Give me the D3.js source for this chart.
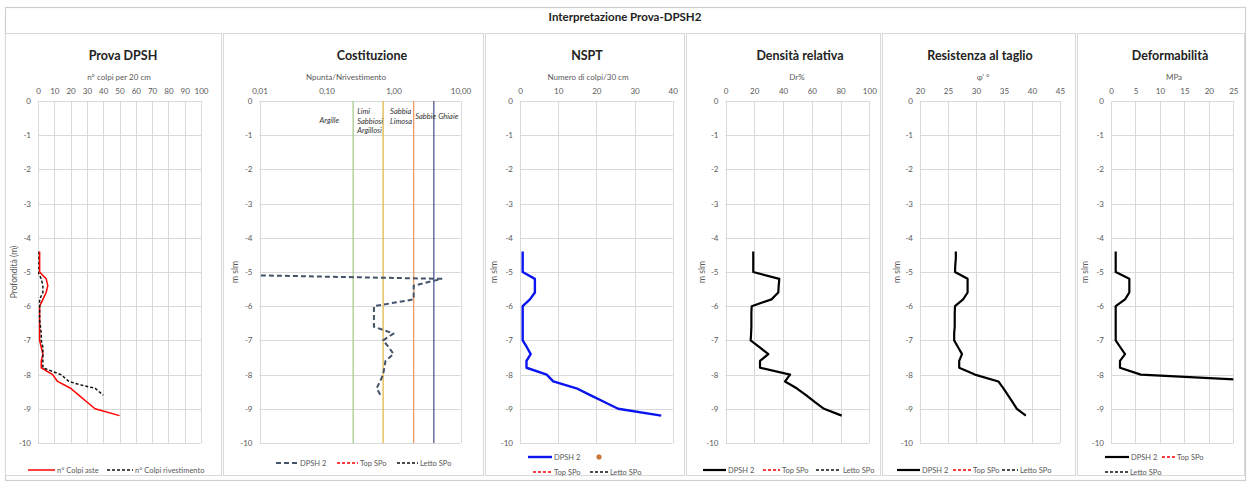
<!DOCTYPE html>
<html>
<head>
<meta charset="utf-8">
<script src="https://cdn.jsdelivr.net/npm/d3@7"></script>
<style>
  body { margin: 0; background: #fff; }
  svg { display: block; }
  text { font-family: Lato, "Open Sans", "Liberation Sans", sans-serif; }
</style>
</head>
<body>
<svg id="chart" width="1250" height="486"></svg>
<script>
// ---- Data (depths in m s.l.m.) ----
const depths = [-4.4, -4.6, -4.8, -5.0, -5.2, -5.4, -5.6, -5.8, -6.0, -6.2, -6.4, -6.6, -6.8,
                -7.0, -7.2, -7.4, -7.6, -7.8, -8.0, -8.2, -8.4, -8.6, -8.8, -9.0, -9.2];

// Prova DPSH: blows per 20 cm
const colpiAste = [1, 1, 1, 1, 5, 6, 5, 3, 1, 1, 1, 1, 1, 1, 2, 3, 2, 2, 9, 12, 20, 25, 30, 35, 50];
const depthsRiv = [-4.4, -4.6, -4.8, -5.0, -5.2, -5.4, -5.6, -5.8, -6.0, -6.2, -6.4, -6.6, -6.8,
                   -7.0, -7.2, -7.4, -7.6, -7.8, -8.0, -8.2, -8.3, -8.4, -8.6];
const colpiRivestimento = [0, 0, 0, 0, 2, 3, 3, 1, 1, 1, 1, 1.5, 2, 2, 3, 3, 3, 3, 14, 19, 26, 35, 40];

// Costituzione: Npunta / Nrivestimento (log scale)
const depthsRatio = [-5.1, -5.2, -5.4, -5.6, -5.8, -6.0, -6.2, -6.4, -6.6, -6.8, -7.0, -7.2, -7.4, -7.6, -7.8, -8.0, -8.2, -8.4, -8.6];
const ratioPuntaRiv = [0.0105, 5.2, 2.0, 2.0, 2.0, 0.51, 0.51, 0.51, 0.51, 1.0, 0.7, 0.85, 1.0, 0.76, 0.73, 0.7, 0.63, 0.56, 0.64];
const zoneLimits = [0.25, 0.7, 2.0, 4.0];
const zoneColors = ["#a9cd8c", "#e2b84b", "#ef9a66", "#4f5b93"];

// NSPT: blows per 30 cm
const nspt = [0.7, 0.7, 0.7, 0.7, 3.9, 3.9, 3.9, 2.6, 0.7, 0.7, 0.7, 0.7, 0.7, 0.7, 1.8, 2.8, 1.7, 1.7, 7.0, 8.7, 14.8, 18.4, 22.1, 25.7, 37];

// Densità relativa Dr %
const densitaRelativa = [19.3, 19.3, 19.3, 19.3, 37.4, 37.0, 36.7, 32.0, 18.2, 18.0, 18.0, 18.0, 17.8, 17.5, 23.6, 29.8, 24.0, 24.0, 44.9, 41.4, 49.5, 56.0, 62.0, 68.5, 80.8];

// Resistenza al taglio φ' (°)
const angoloAttrito = [26.4, 26.4, 26.3, 26.25, 28.5, 28.5, 28.5, 27.7, 26.25, 26.2, 26.2, 26.2, 26.1, 26.1, 26.8, 27.5, 27.0, 27.0, 29.8, 34.0, 34.9, 35.7, 36.5, 37.3, 38.9];

// Deformabilità (MPa)
const depthsMod = [-4.4, -4.6, -4.8, -5.0, -5.2, -5.4, -5.6, -5.8, -6.0, -6.2, -6.4, -6.6, -6.8, -7.0, -7.2, -7.4, -7.6, -7.8, -8.0, -8.2];
const moduloMPa = [0.96, 0.96, 0.96, 0.96, 3.75, 3.75, 3.75, 2.87, 0.96, 0.96, 0.96, 0.96, 0.96, 0.96, 1.9, 2.87, 1.84, 1.84, 6.1, 33];

// Axis ticks
const depthTicks = [0, -1, -2, -3, -4, -5, -6, -7, -8, -9, -10];
const ticksColpi = [0, 10, 20, 30, 40, 50, 60, 70, 80, 90, 100];
const ticksRatio = [0.01, 0.1, 1, 10];
const ticksNspt = [0, 10, 20, 30, 40];
const ticksDr = [0, 20, 40, 60, 80, 100];
const ticksPhi = [20, 25, 30, 35, 40, 45];
const ticksMod = [0, 5, 10, 15, 20, 25];

// ---- Layout ----
const svg = d3.select("#chart");
const TOP = 101, BOTTOM = 443;
const GRID = "#d9d9d9", TXT = "#595959";
const y = d3.scaleLinear().domain([0, -10]).range([TOP, BOTTOM]);
const zip = (ds, vs) => ds.map((d, i) => ({ d, v: vs[i] }));
const commaFmt = d => d3.format(".2f")(d).replace(".", ",");

// outer frame and title row
svg.append("rect").attr("x", 5.5).attr("y", 7.5).attr("width", 1240).attr("height", 473)
  .attr("fill", "none").attr("stroke", "#cfcfcf").attr("stroke-width", 1.2);
svg.append("text").attr("x", 625).attr("y", 16).attr("text-anchor", "middle")
  .attr("dominant-baseline", "central").attr("font-size", 11.5).attr("font-weight", 700)
  .attr("fill", "#222").text("Interpretazione Prova-DPSH2");

const panels = [
  { id: "p1", box: [5, 222], plot: [38, 201], title: "Prova DPSH", titleX: 123, sub: "n° colpi per 20 cm", subX: 119,
    x: d3.scaleLinear().domain([0, 100]), ticks: ticksColpi, fmt: d => d, ylab: "Profondità (m)", ylabX: 14,
    series: [
      { data: zip(depths, colpiAste), color: "#ff0000", width: 1.5, dash: null },
      { data: zip(depthsRiv, colpiRivestimento), color: "#111", width: 1.5, dash: "3,2" }
    ],
    legend: [
      { y: 470, x1: 28, x2: 55, color: "#ff0000", width: 1.5, dash: null, text: "n° Colpi aste", tx: 57 },
      { y: 470, x1: 107, x2: 133, color: "#111", width: 1.5, dash: "3,2", text: "n° Colpi rivestimento", tx: 135 }
    ] },
  { id: "p2", box: [223, 484], plot: [259.5, 460.5], title: "Costituzione", titleX: 372, sub: "Npunta/Nrivestimento", subX: 346,
    x: d3.scaleLog().domain([0.01, 10]), ticks: ticksRatio, fmt: commaFmt, log: true, ylab: "m slm", ylabX: 235,
    series: [
      { data: zip(depthsRatio, ratioPuntaRiv), color: "#44546a", width: 2, dash: "5,3" }
    ],
    legend: [
      { y: 463, x1: 276, x2: 298, color: "#44546a", width: 2, dash: "5,3", text: "DPSH 2", tx: 300 },
      { y: 463, x1: 337, x2: 358, color: "#ff0000", width: 1.5, dash: "3,2", text: "Top SPo", tx: 360 },
      { y: 463, x1: 397, x2: 418, color: "#111", width: 1.5, dash: "3,2", text: "Letto SPo", tx: 420 }
    ] },
  { id: "p3", box: [485, 685], plot: [520, 672.7], title: "NSPT", titleX: 587, sub: "Numero  di colpi/30 cm", subX: 588,
    x: d3.scaleLinear().domain([0, 40]), ticks: ticksNspt, fmt: d => d, ylab: "m slm", ylabX: 494,
    series: [
      { data: zip(depths, nspt), color: "#0a14f0", width: 2.4, dash: null }
    ],
    legend: [
      { y: 457, x1: 528, x2: 552, color: "#0a14f0", width: 2.4, dash: null, text: "DPSH 2", tx: 554 },
      { y: 457, dot: true, cx: 599, color: "#d07a3a" },
      { y: 472, x1: 533, x2: 552, color: "#ff0000", width: 1.5, dash: "3,2", text: "Top SPo", tx: 554 },
      { y: 472, x1: 590, x2: 608, color: "#111", width: 1.5, dash: "3,2", text: "Letto SPo", tx: 610 }
    ] },
  { id: "p4", box: [686, 881], plot: [725.5, 869.3], title: "Densità relativa", titleX: 800, sub: "Dr%", subX: 797,
    x: d3.scaleLinear().domain([0, 100]), ticks: ticksDr, fmt: d => d, ylab: "m slm", ylabX: 702,
    series: [
      { data: zip(depths, densitaRelativa), color: "#000", width: 2.2, dash: null }
    ],
    legend: [
      { y: 470, x1: 703, x2: 726, color: "#000", width: 2.2, dash: null, text: "DPSH 2", tx: 728 },
      { y: 470, x1: 763, x2: 780, color: "#ff0000", width: 1.5, dash: "3,2", text: "Top SPo", tx: 782 },
      { y: 470, x1: 816, x2: 841, color: "#111", width: 1.5, dash: "3,2", text: "Letto SPo", tx: 843 }
    ] },
  { id: "p5", box: [882, 1076], plot: [920, 1060], title: "Resistenza al taglio", titleX: 980, sub: "φ' °", subX: 983,
    x: d3.scaleLinear().domain([20, 45]), ticks: ticksPhi, fmt: d => d, ylab: "m slm", ylabX: 897,
    series: [
      { data: zip(depths, angoloAttrito), color: "#000", width: 2.2, dash: null }
    ],
    legend: [
      { y: 470, x1: 897, x2: 920, color: "#000", width: 2.2, dash: null, text: "DPSH 2", tx: 922 },
      { y: 470, x1: 953, x2: 971, color: "#ff0000", width: 1.5, dash: "3,2", text: "Top SPo", tx: 973 },
      { y: 470, x1: 1002, x2: 1018, color: "#111", width: 1.5, dash: "3,2", text: "Letto SPo", tx: 1020 }
    ] },
  { id: "p6", box: [1077, 1245], plot: [1111, 1233.3], title: "Deformabilità", titleX: 1170, sub: "MPa", subX: 1174,
    x: d3.scaleLinear().domain([0, 25]), ticks: ticksMod, fmt: d => d, ylab: "m slm", ylabX: 1085,
    series: [
      { data: zip(depthsMod, moduloMPa), color: "#000", width: 2.2, dash: null }
    ],
    legend: [
      { y: 457, x1: 1105, x2: 1129, color: "#000", width: 2.2, dash: null, text: "DPSH 2", tx: 1131 },
      { y: 457, x1: 1162, x2: 1175, color: "#ff0000", width: 1.5, dash: "3,2", text: "Top SPo", tx: 1177 },
      { y: 472, x1: 1105, x2: 1128, color: "#111", width: 1.5, dash: "3,2", text: "Letto SPo", tx: 1130 }
    ] }
];

panels.forEach(p => {
  const g = svg.append("g").attr("class", p.id);
  const x = p.x.range(p.plot);
  const [L, R] = p.plot;

  // panel box
  g.append("rect").attr("x", p.box[0] + 0.5).attr("y", 33.5)
    .attr("width", p.box[1] - p.box[0] - 1).attr("height", 442)
    .attr("fill", "#fff").attr("stroke", GRID).attr("stroke-width", 1);

  // titles
  g.append("text").attr("x", p.titleX).attr("y", 55).attr("text-anchor", "middle")
    .attr("dominant-baseline", "central").attr("font-size", 12.5).attr("font-weight", 700)
    .attr("fill", "#222").text(p.title);
  g.append("text").attr("x", p.subX).attr("y", 77).attr("text-anchor", "middle")
    .attr("dominant-baseline", "central").attr("font-size", 8).attr("fill", TXT).text(p.sub);

  // gridlines
  const grid = g.append("g").attr("stroke", GRID).attr("stroke-width", 1);
  grid.selectAll("line.h").data(depthTicks).join("line").attr("class", "h")
    .attr("x1", L).attr("x2", R).attr("y1", d => Math.round(y(d)) + 0.5).attr("y2", d => Math.round(y(d)) + 0.5);
  const vticks = p.log ? [x.domain()[0], x.domain()[1]] : p.ticks;
  grid.selectAll("line.v").data(vticks).join("line").attr("class", "v")
    .attr("x1", d => Math.round(x(d)) + 0.5).attr("x2", d => Math.round(x(d)) + 0.5)
    .attr("y1", TOP).attr("y2", BOTTOM);

  // top axis
  const ax = g.append("g").attr("transform", `translate(0,${TOP})`)
    .call(d3.axisTop(x).tickValues(p.ticks).tickFormat(p.fmt).tickSize(0).tickPadding(7));
  ax.select(".domain").remove();
  ax.selectAll("text").attr("font-size", 8).attr("fill", TXT).attr("font-family", null);

  // left axis
  const ay = g.append("g").attr("transform", `translate(${L},0)`)
    .call(d3.axisLeft(y).tickValues(depthTicks).tickFormat(d => String(d)).tickSize(0).tickPadding(7));
  ay.select(".domain").remove();
  ay.selectAll("text").attr("font-size", 8).attr("fill", TXT).attr("font-family", null);

  // y title
  g.append("text").attr("transform", `translate(${p.ylabX},${(TOP + BOTTOM) / 2}) rotate(-90)`)
    .attr("text-anchor", "middle").attr("dominant-baseline", "central")
    .attr("font-size", 8.5).attr("fill", TXT).text(p.ylab);

  // clip
  const clipId = "clip-" + p.id;
  g.append("clipPath").attr("id", clipId).append("rect")
    .attr("x", L).attr("y", TOP - 1).attr("width", R - L).attr("height", BOTTOM - TOP + 2);

  // soil zone limits and labels (Costituzione)
  if (p.log) {
    g.selectAll("line.zone").data(zoneLimits).join("line").attr("class", "zone")
      .attr("x1", d => x(d)).attr("x2", d => x(d)).attr("y1", TOP).attr("y2", BOTTOM)
      .attr("stroke", (d, i) => zoneColors[i]).attr("stroke-width", 1.3);
    const zl = g.append("g").attr("font-size", 7.5).attr("font-style", "italic").attr("fill", "#333");
    const zoneText = [
      { t: "Argille", x: Math.sqrt(0.01 * zoneLimits[0]) * 0 + x(0.11), yy: 120, anchor: "middle" },
      { t: "Limi", x: x(zoneLimits[0]) + 4, yy: 111, anchor: "start" },
      { t: "Sabbiosi", x: x(zoneLimits[0]) + 4, yy: 121, anchor: "start" },
      { t: "Argillosi", x: x(zoneLimits[0]) + 4, yy: 130.5, anchor: "start" },
      { t: "Sabbia", x: x(zoneLimits[1]) + 7, yy: 111, anchor: "start" },
      { t: "Limosa", x: x(zoneLimits[1]) + 7, yy: 121, anchor: "start" },
      { t: "Sabbie", x: x(zoneLimits[2]) + 1.5, yy: 116.5, anchor: "start" },
      { t: "Ghiaie", x: x(zoneLimits[3]) + 4.5, yy: 116.5, anchor: "start" }
    ];
    zl.selectAll("text").data(zoneText).join("text")
      .attr("x", d => d.x).attr("y", d => d.yy).attr("text-anchor", d => d.anchor)
      .attr("dominant-baseline", "central").text(d => d.t);
  }

  // series
  const line = d3.line().x(d => x(d.v)).y(d => y(d.d));
  g.append("g").attr("clip-path", `url(#${clipId})`)
    .selectAll("path").data(p.series).join("path")
    .attr("d", s => line(s.data)).attr("fill", "none")
    .attr("stroke", s => s.color).attr("stroke-width", s => s.width)
    .attr("stroke-dasharray", s => s.dash).attr("stroke-linejoin", "round");

  // legend
  const lg = g.append("g");
  p.legend.forEach(it => {
    if (it.dot) {
      lg.append("circle").attr("cx", it.cx).attr("cy", it.y).attr("r", 2.3)
        .attr("fill", it.color).attr("stroke", "#a85a20").attr("stroke-width", 0.6);
      return;
    }
    lg.append("line").attr("x1", it.x1).attr("x2", it.x2).attr("y1", it.y).attr("y2", it.y)
      .attr("stroke", it.color).attr("stroke-width", it.width).attr("stroke-dasharray", it.dash);
    lg.append("text").attr("x", it.tx).attr("y", it.y).attr("dominant-baseline", "central")
      .attr("font-size", 7.5).attr("fill", TXT).text(it.text);
  });
});
</script>
</body>
</html>
